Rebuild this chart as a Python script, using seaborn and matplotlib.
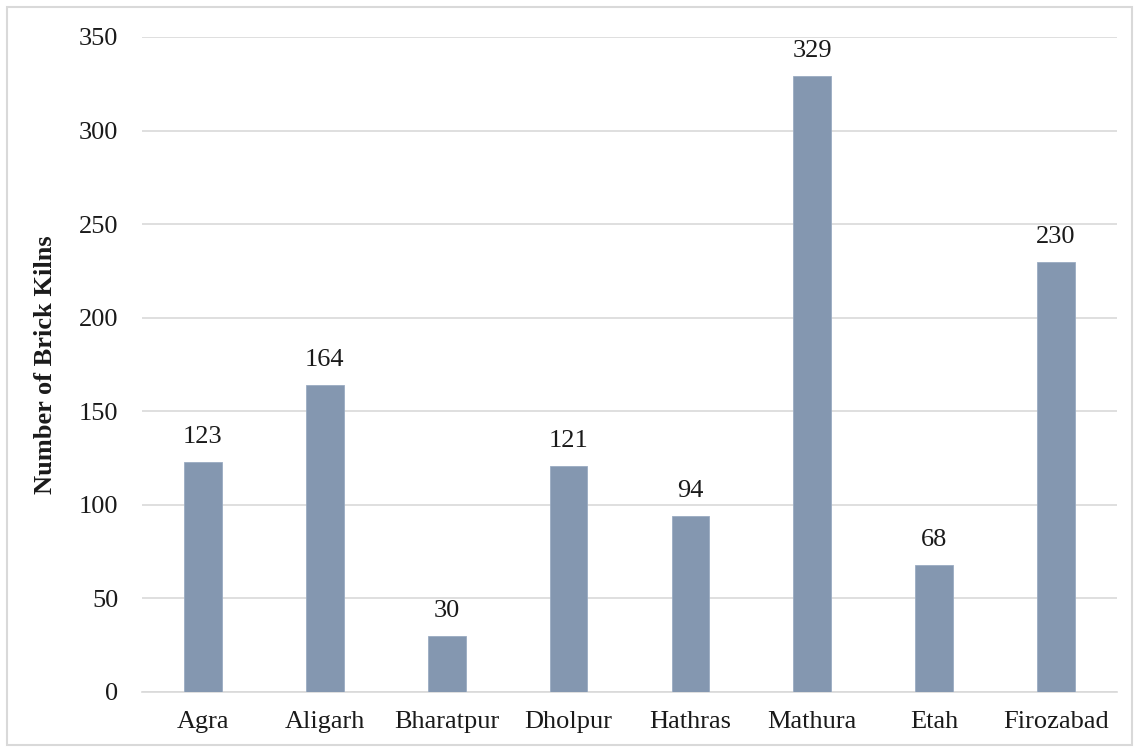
import matplotlib
matplotlib.use("Agg")
import matplotlib.pyplot as plt
import seaborn as sns
import pandas as pd
from matplotlib.patches import Rectangle

districts = ["Agra", "Aligarh", "Bharatpur", "Dholpur", "Hathras", "Mathura", "Etah", "Firozabad"]
kilns = [123, 164, 30, 121, 94, 329, 68, 230]
y_ticks = [0, 50, 100, 150, 200, 250, 300, 350]

sns.set_theme(style="white")
plt.rcParams["font.family"] = ["Liberation Serif", "DejaVu Serif"]

df = pd.DataFrame({"district": districts, "kilns": kilns})

fig = plt.figure(figsize=(11.39, 7.52), dpi=100)
ax = fig.add_axes([0.1247, 0.0798, 0.856, 0.871])

sns.barplot(data=df, x="district", y="kilns", color="#8497B0", saturation=1,
            width=0.31, ax=ax, zorder=3, edgecolor="#9aabc2", linewidth=0.6)

for i, v in enumerate(kilns):
    ax.annotate(str(v), (i, v), xytext=(0, 10), textcoords="offset points",
                ha="center", va="bottom", fontsize=19, color="#1a1a1a")

ax.set_ylim(0, 350)
ax.set_yticks(y_ticks)
ax.set_xlim(-0.5, len(districts) - 0.5)
ax.yaxis.grid(True, color="#d9d9d9", linewidth=1.2, zorder=0)
ax.xaxis.grid(False)
for s in ["top", "right", "left"]:
    ax.spines[s].set_visible(False)
ax.spines["bottom"].set_color("#d9d9d9")
ax.spines["bottom"].set_linewidth(1.2)
ax.tick_params(axis="both", length=0, labelsize=19, colors="#1a1a1a")
ax.tick_params(axis="x", pad=14)
ax.tick_params(axis="y", pad=17)
ax.set_xlabel("")
ax.set_ylabel("Number of Brick Kilns", fontsize=19, fontweight="bold", color="#1a1a1a")
ax.yaxis.set_label_coords(-0.087, 0.5)

fig.patches.append(Rectangle((7 / 1139, 7 / 752), 1125 / 1139, 738 / 752,
                             transform=fig.transFigure, fill=False,
                             edgecolor="#d9d9d9", linewidth=1.5))

fig.savefig("out.png", dpi=100)
